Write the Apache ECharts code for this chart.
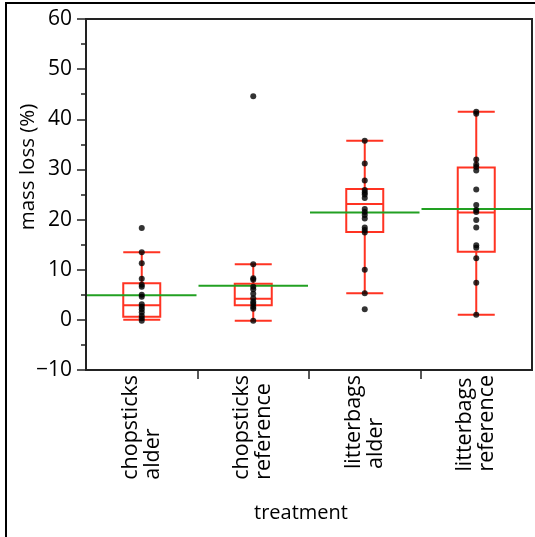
<!DOCTYPE html>
<html>
<head>
<meta charset="utf-8">
<script src="https://cdn.jsdelivr.net/npm/echarts@6/dist/echarts.min.js"></script>
<style>html,body{margin:0;padding:0;background:#fff}#chart{width:535px;height:537px}</style>
</head>
<body>
<div id="chart"></div>
<script>
// ---- data ----
const categories = ['chopsticks\nalder', 'chopsticks\nreference', 'litterbags\nalder', 'litterbags\nreference'];
// box stats: [lower whisker, Q1, median, Q3, upper whisker]
const boxChopAlder = [0.0, 0.6, 2.9, 7.3, 13.5];
const boxChopRef = [-0.2, 2.9, 4.2, 7.2, 11.1];
const boxLitterAlder = [5.3, 17.5, 23.1, 26.1, 35.7];
const boxLitterRef = [1.0, 13.6, 21.4, 30.4, 41.5];
// group means
const means = [4.9, 6.8, 21.4, 22.1];
// individual observations
const ptsChopAlder = [18.3, 13.5, 11.3, 8.2, 7.0, 6.6, 5.0, 4.6, 3.1, 2.6, 2.1, 1.5, 0.8, 0.3, -0.2];
const ptsChopRef = [44.6, 11.1, 8.3, 8.0, 6.6, 6.1, 5.2, 4.3, 3.6, 3.2, 2.6, 2.2, -0.2];
const ptsLitterAlder = [35.7, 31.2, 27.8, 25.9, 25.4, 25.0, 24.3, 22.1, 21.5, 20.9, 20.2, 18.4, 17.9, 17.4, 10.0, 5.3, 2.1];
const ptsLitterRef = [41.5, 41.1, 32.0, 31.0, 30.5, 29.8, 26.0, 22.9, 21.9, 21.5, 19.9, 18.4, 14.9, 14.4, 12.3, 7.4, 1.0];
const yTicks = { min: -10, max: 60, step: 10 };

// ---- chart ----
const RED = '#ff3322';
const GREEN = '#22a022';
const FONT = 'Open Sans';
const boxes = [boxChopAlder, boxChopRef, boxLitterAlder, boxLitterRef];
const groups = [ptsChopAlder, ptsChopRef, ptsLitterAlder, ptsLitterRef];
const scatterData = [];
groups.forEach((g, i) => g.forEach(v => scatterData.push([i, v])));
const meanData = means.map((m, i) => [i, m]);

const chart = echarts.init(document.getElementById('chart'), null, { renderer: 'canvas' });
chart.setOption({
  animation: false,
  backgroundColor: '#fff',
  graphic: [{
    type: 'rect', silent: true,
    shape: { x: 6, y: 3, width: 700, height: 700 },
    style: { fill: 'none', stroke: '#000', lineWidth: 2 }
  }],
  grid: {
    left: 86, top: 19, right: 3, bottom: 167,
    show: true, borderColor: '#222', borderWidth: 2, backgroundColor: 'transparent'
  },
  xAxis: [{
    type: 'category',
    data: categories,
    boundaryGap: true,
    axisLine: { show: true, onZero: false, lineStyle: { color: '#222', width: 2 } },
    axisTick: { show: false },
    splitLine: { show: false },
    axisLabel: {
      interval: 0, rotate: 90, margin: 5,
      formatter: v => v.split('\n').map(s => '{a|' + s + '}').join('\n'),
      rich: { a: { align: 'left', fontSize: 21.5, lineHeight: 22, fontFamily: FONT, color: '#000' } }
    },
    name: 'treatment',
    nameLocation: 'middle',
    nameGap: 132,
    nameMoveOverlap: false,
    nameTextStyle: { fontSize: 20, lineHeight: 22, fontFamily: FONT, color: '#000', padding: [0, 16, 0, 0] }
  }, {
    type: 'value', min: 0, max: 4, position: 'bottom',
    axisLine: { show: false, onZero: false },
    axisLabel: { show: false },
    splitLine: { show: false },
    axisTick: { show: true, customValues: [1, 2, 3], length: 9, lineStyle: { color: '#222', width: 1.5 } }
  }],
  yAxis: {
    type: 'value',
    min: yTicks.min, max: yTicks.max, interval: yTicks.step,
    axisLine: { show: true, onZero: false, lineStyle: { color: '#222', width: 2 } },
    axisTick: { show: true, length: 9, lineStyle: { color: '#222', width: 1.5 } },
    minorTick: { show: true, splitNumber: 2, length: 5, lineStyle: { color: '#222', width: 1.5 } },
    splitLine: { show: false },
    axisLabel: {
      margin: 14, fontSize: 21, fontFamily: FONT, color: '#000',
      formatter: v => String(v).replace('-', '\u2212')
    },
    name: 'mass loss (%)',
    nameLocation: 'middle',
    nameGap: 47,
    nameMoveOverlap: false,
    nameTextStyle: { fontSize: 20.5, lineHeight: 22, fontFamily: FONT, color: '#000', padding: [0, 0, 0, 55] }
  },
  series: [{
    type: 'boxplot',
    data: boxes,
    boxWidth: [37, 37],
    itemStyle: { color: 'rgba(0,0,0,0)', borderColor: RED, borderWidth: 2 },
    emphasis: { disabled: true },
    z: 2
  }, {
    type: 'custom',
    data: meanData,
    renderItem: (params, api) => {
      const c = api.coord([api.value(0), api.value(1)]);
      const w = api.size([1, 0])[0];
      return {
        type: 'line',
        shape: { x1: c[0] - w / 2 + 1, y1: c[1], x2: c[0] + w / 2 - 1, y2: c[1] },
        style: { stroke: GREEN, lineWidth: 2 }
      };
    },
    z: 3
  }, {
    type: 'scatter',
    data: scatterData,
    symbolSize: 6,
    itemStyle: { color: '#000' },
    emphasis: { disabled: true },
    z: 4
  }]
});
</script>
</body>
</html>
